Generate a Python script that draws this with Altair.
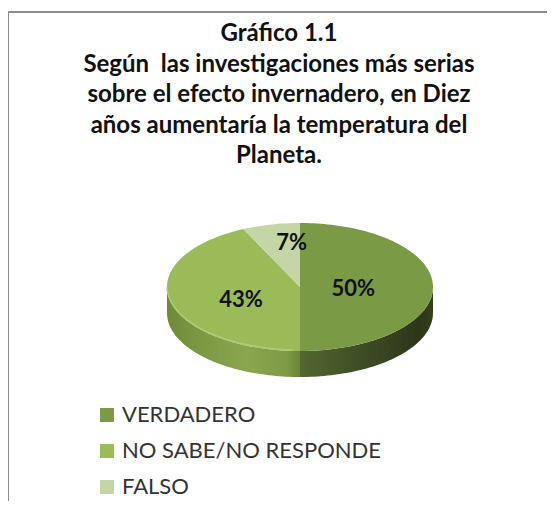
import math
import altair as alt
import pandas as pd

# ---------------- data ----------------
categories = ["VERDADERO", "NO SABE/NO RESPONDE", "FALSO"]
values = [50, 43, 7]
pct_labels = ["50%", "43%", "7%"]
title_lines = [
    "Gráfico 1.1",
    "Según\u00a0 las investigaciones más serias",
    "sobre el efecto invernadero, en Diez",
    "años aumentaría la temperatura del",
    "Planeta.",
]

# ---------------- styles / layout ----------------
top_colors = ["#7b9a46", "#9bbb59", "#c4d6a6"]
side_gradients = {
    "VERDADERO": [("#53672f", 0.0), ("#3f4e25", 0.45), ("#2c3619", 0.9), ("#36421f", 1.0)],
    "NO SABE/NO RESPONDE": [("#6e8a39", 0.0), ("#7c9942", 0.25), ("#89a74e", 0.6), ("#7d9a44", 0.9), ("#6a8537", 1.0)],
    "FALSO": [("#9aae7c", 0.0), ("#9aae7c", 1.0)],
}
W, H = 539, 493
CX, CY, RX, RY, DEPTH = 292, 279, 133, 64, 26
label_r = [0.40, 0.47, 0.70]
label_dx = [0, 2, 12]
label_dy = [2, 6, 0]
FONT = "Lato"

# ---------------- geometry derived from values ----------------
total = sum(values)
starts, ends = [], []
acc = 0.0
for v in values:
    starts.append(acc / total * 360.0)
    acc += v
    ends.append(acc / total * 360.0)


def ell(theta, dy=0.0):
    t = math.radians(theta)
    return CX + RX * math.sin(t), CY - RY * math.cos(t) + dy


def arc(a1, a2, dy=0.0, step=1.5):
    n = max(2, int(abs(a2 - a1) / step) + 1)
    return [ell(a1 + (a2 - a1) * k / (n - 1), dy) for k in range(n)]


xs = alt.Scale(domain=[0, W])
ys = alt.Scale(domain=[0, H], reverse=True)

top_rows = []
for cat, a1, a2 in zip(categories, starts, ends):
    pts = [(CX, CY)] + arc(a1, a2) + [(CX, CY)]
    for i, (x, y) in enumerate(pts):
        top_rows.append({"cat": cat, "i": i, "x": x, "y": y})
top_df = pd.DataFrame(top_rows)

side_layers = []
rim_rows = []
for cat, a1, a2 in zip(categories, starts, ends):
    s1, s2 = max(a1, 90.0), min(a2, 270.0)
    if s2 <= s1:
        continue
    pts = arc(s1, s2) + arc(s2, s1, DEPTH)
    sdf = pd.DataFrame([{"cat": cat, "i": i, "x": x, "y": y} for i, (x, y) in enumerate(pts)])
    grad = alt.Gradient(
        gradient="linear",
        stops=[alt.GradientStop(color=c, offset=o) for c, o in side_gradients[cat]],
        x1=0, x2=1, y1=0, y2=0,
    )
    side_layers.append(
        alt.Chart(sdf).mark_line(fill=grad, strokeOpacity=0, strokeWidth=0).encode(
            x=alt.X("x:Q", scale=xs, axis=None),
            y=alt.Y("y:Q", scale=ys, axis=None),
            order=alt.Order("i:Q"),
        )
    )
    if cat == "NO SABE/NO RESPONDE":
        for i, (x, y) in enumerate(arc(s1 + 3, s2 - 1)):
            rim_rows.append({"cat": cat, "i": i, "x": x, "y": y - 1})

top = alt.Chart(top_df).mark_line(strokeOpacity=0, strokeWidth=0).encode(
    x=alt.X("x:Q", scale=xs, axis=None),
    y=alt.Y("y:Q", scale=ys, axis=None),
    fill=alt.Fill(
        "cat:N",
        scale=alt.Scale(domain=categories, range=top_colors),
        legend=alt.Legend(
            title=None,
            orient="none",
            legendX=88,
            legendY=396,
            direction="vertical",
            symbolType="square",
            symbolSize=196,
            symbolStrokeWidth=0,
            symbolOpacity=1,
            labelFont=FONT,
            labelFontSize=22,
            labelColor="#333333",
            labelOffset=4,
            rowPadding=14,
            padding=0,
            labelLimit=400,
        ),
    ),
    order=alt.Order("i:Q"),
    detail="cat:N",
)

rim = alt.Chart(pd.DataFrame(rim_rows)).mark_line(stroke="#b3ce78", strokeWidth=1.5, opacity=0.8).encode(
    x=alt.X("x:Q", scale=xs, axis=None),
    y=alt.Y("y:Q", scale=ys, axis=None),
    order=alt.Order("i:Q"),
)

lab_rows = []
for cat, lab, a1, a2, f, ddx, ddy in zip(categories, pct_labels, starts, ends, label_r, label_dx, label_dy):
    m = math.radians((a1 + a2) / 2)
    lab_rows.append({"lab": lab,
                     "x": CX + RX * f * math.sin(m) + ddx,
                     "y": CY - RY * f * math.cos(m) + ddy})
labels = alt.Chart(pd.DataFrame(lab_rows)).mark_text(
    font=FONT, fontSize=22, fontWeight="bold", color="#111111", baseline="middle", align="center"
).encode(
    x=alt.X("x:Q", scale=xs, axis=None),
    y=alt.Y("y:Q", scale=ys, axis=None),
    text="lab:N",
)

TITLE_X, TITLE_Y0, TITLE_LH = 271, 33, 30.5
title_df = pd.DataFrame(
    {"t": title_lines, "x": [TITLE_X] * len(title_lines),
     "y": [TITLE_Y0 + TITLE_LH * i for i in range(len(title_lines))]}
)
title = alt.Chart(title_df).mark_text(
    font=FONT, fontSize=24, fontWeight="bold", color="#111111", baseline="alphabetic", align="center"
).encode(
    x=alt.X("x:Q", scale=xs, axis=None),
    y=alt.Y("y:Q", scale=ys, axis=None),
    text="t:N",
)

frame_top = alt.Chart(pd.DataFrame({"a": [0]})).mark_rule(color="#8c8c8c", strokeWidth=2).encode(
    x=alt.value(0), x2=alt.value(W + 8), y=alt.value(4)
)
frame_left = alt.Chart(pd.DataFrame({"a": [0]})).mark_rule(color="#8c8c8c", strokeWidth=2).encode(
    x=alt.value(0), y=alt.value(4), y2=alt.value(H + 8)
)

chart = alt.layer(frame_top, frame_left, *side_layers, top, rim, labels, title).properties(
    width=W, height=H, padding=0, autosize="none",
    background="white",
).configure_view(stroke=None)

chart.save("out.html", embed_options={"renderer": "svg", "actions": False})
